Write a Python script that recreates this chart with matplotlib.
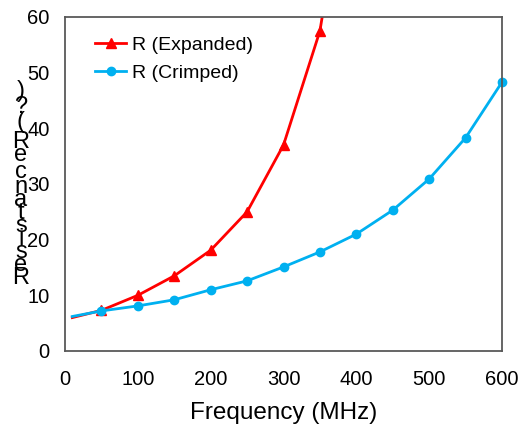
import matplotlib
matplotlib.use("Agg")
import matplotlib.pyplot as plt

plt.rcParams['font.family'] = ['Liberation Sans', 'DejaVu Sans']

# Data
freq_expanded = [10, 50, 100, 150, 200, 250, 300, 350, 355]
r_expanded = [6.0, 7.3, 10.0, 13.5, 18.1, 25.0, 37.0, 57.5, 61.5]
freq_crimped = [10, 50, 100, 150, 200, 250, 300, 350, 400, 450, 500, 550, 600]
r_crimped = [6.2, 7.2, 8.1, 9.2, 11.0, 12.6, 15.1, 17.8, 21.0, 25.3, 30.9, 38.3, 48.3]
label_expanded = "R (Expanded)"
label_crimped = "R (Crimped)"
x_ticks = [0, 100, 200, 300, 400, 500, 600]
y_ticks = [0, 10, 20, 30, 40, 50, 60]
x_label = "Frequency (MHz)"
y_label_chars = ["R", "e", "s", "i", "s", "t", "a", "n", "c", "e", "R", "(", "?", ")"]

W, H = 520, 428
fig = plt.figure(figsize=(W / 100, H / 100), dpi=100)
ax = fig.add_axes([65 / W, 1 - 351 / H, (502 - 65) / W, (351 - 17) / H])

red = '#FF0000'
blue = '#00B0F0'

ax.plot(freq_expanded, r_expanded, color=red, lw=2.0, marker='^', ms=7.5,
        markevery=list(range(1, 8)), label=label_expanded)
ax.plot(freq_crimped, r_crimped, color=blue, lw=2.0, marker='o', ms=6,
        markevery=list(range(1, len(freq_crimped))), label=label_crimped,
        clip_on=False)

ax.set_xlim(0, 600)
ax.set_ylim(0, 60)
ax.set_xticks(x_ticks)
ax.set_yticks(y_ticks)
ax.tick_params(length=0, labelsize=14.5, colors='#000000')
ax.tick_params(axis='y', pad=11)
ax.tick_params(axis='x', pad=14)
for s in ax.spines.values():
    s.set_color('#595959')
    s.set_linewidth(1.3)

ax.set_xlabel(x_label, fontsize=17.5, labelpad=9)

leg = ax.legend(loc='upper left', bbox_to_anchor=(95 / W, 1 - 36 / H),
                bbox_transform=fig.transFigure, frameon=False, fontsize=14,
                handlelength=1.6, handletextpad=0.3, labelspacing=0.55,
                numpoints=1, borderaxespad=0, borderpad=0)

# Stacked y-axis label characters (as rendered in the reference)
baselines = [284, 271, 258, 245, 232, 219, 206, 193, 178, 161, 148, 128, 113, 97]
for ch, yb in zip(y_label_chars, baselines):
    fig.text(21 / W, 1 - yb / H, ch, fontsize=17, ha='center', va='baseline')

fig.savefig('out.png', dpi=100)
